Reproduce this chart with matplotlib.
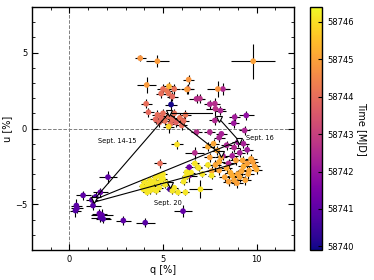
import numpy as np
import matplotlib
matplotlib.use("Agg")
import matplotlib.pyplot as plt

# -----------------------------
# Data
# -----------------------------
# Sept. 14-15 (purple / blue)
q_a = [2.06, 1.65, 0.73, 1.26, 1.20, 1.40, 0.37, 0.32, 0.40, 1.74, 1.65, 1.80, 1.60, 2.88, 4.05, 6.07, 5.43, 6.40, 6.40, 5.37]
u_a = [-3.20, -4.20, -4.40, -5.07, -4.70, -4.50, -5.07, -5.40, -5.25, -5.70, -5.86, -5.95, -5.60, -6.06, -6.20, -5.44, 1.58, -2.55, -3.10, -4.00]
qe_a = [0.5, 0.4, 0.4, 0.4, 0.3, 0.3, 0.3, 0.3, 0.3, 0.6, 0.5, 0.4, 0.4, 0.4, 0.5, 0.5, 0.3, 0.2, 0.4, 0.2]
ue_a = [0.4, 0.3, 0.3, 0.3, 0.3, 0.3, 0.4, 0.4, 0.3, 0.4, 0.3, 0.3, 0.3, 0.3, 0.3, 0.4, 0.4, 0.2, 0.4, 0.2]
t_a = [58741.0, 58741.1, 58741.0, 58740.9, 58741.0, 58740.8, 58740.9, 58740.8, 58741.0, 58741.0,
       58740.9, 58740.8, 58741.1, 58741.0, 58740.9, 58741.1, 58740.0, 58741.3, 58741.4, 58740.6]

# Sept. 16 (magenta)
q_b = [6.79, 6.97, 8.20, 7.50, 7.77, 8.07, 8.83, 9.45, 8.78, 7.77, 6.79, 7.50, 8.12, 9.36, 8.00, 8.80, 8.70, 8.20, 8.50, 9.10, 6.70, 9.00, 9.30, 8.40, 9.50, 7.80]
u_b = [1.95, 1.97, 2.60, 1.60, 1.64, 1.18, 0.75, 0.86, 0.35, 0.53, -0.24, -0.24, -0.35, -0.13, -0.60, -1.25, -1.80, -1.80, -2.30, -1.60, -1.60, -0.90, -1.00, -1.10, -1.40, 1.30]
qe_b = [0.4, 0.3, 0.4, 0.3, 0.3, 0.3, 0.3, 0.4, 0.3, 0.3, 0.3, 0.3, 0.3, 0.3, 0.3, 0.3, 0.3, 0.3, 0.3, 0.3, 0.5, 0.3, 0.3, 0.3, 0.3, 0.5]
ue_b = [0.3, 0.3, 0.4, 0.3, 0.4, 0.3, 0.3, 0.3, 0.3, 0.3, 0.2, 0.2, 0.2, 0.3, 0.3, 0.3, 0.3, 0.3, 0.3, 0.3, 0.4, 0.3, 0.3, 0.3, 0.3, 0.5]
t_b = [58742.6, 58742.7, 58742.5, 58742.5, 58742.6, 58742.4, 58742.2, 58741.9, 58742.1, 58742.5,
       58742.6, 58742.5, 58742.3, 58742.4, 58742.4, 58742.5, 58742.3, 58742.4, 58742.5, 58742.3,
       58742.6, 58742.2, 58742.3, 58742.4, 58742.2, 58742.7]

# salmon (~58744)
q_c = [5.00, 5.30, 5.50, 4.90, 5.20, 5.60, 6.33, 4.10, 4.22, 4.70, 4.90, 5.10, 5.30, 5.50, 5.70, 5.90, 6.10, 6.20, 4.80, 5.00, 5.60, 6.00, 5.40, 4.60, 4.84]
u_c = [2.60, 2.30, 2.10, 2.30, 2.50, 2.60, 2.60, 1.63, 1.07, 0.90, 0.70, 0.50, 0.80, 0.60, 0.40, 0.70, 0.50, 0.90, 0.40, 1.00, 1.00, 0.20, 0.30, 0.60, -2.30]
qe_c = [0.3] * 25
ue_c = [0.3] * 25
t_c = [58744.0, 58744.1, 58743.9, 58744.0, 58744.2, 58744.1, 58744.0, 58744.0, 58743.9, 58744.0,
       58743.9, 58744.1, 58744.0, 58744.0, 58743.8, 58744.1, 58744.0, 58744.2, 58743.9, 58744.0,
       58744.1, 58744.0, 58744.0, 58743.9, 58744.0]

# orange (~58745)
q_d = [3.78, 4.70, 4.13, 5.32, 6.37, 6.28, 7.93, 9.82,
       7.70, 7.90, 7.50, 8.00, 7.80, 8.00, 8.30, 8.60, 9.10, 9.50, 9.60, 9.30, 9.70, 8.80, 8.40, 7.60,
       8.90, 9.20, 8.70, 9.90, 8.10, 7.40, 8.50, 9.00, 9.40, 9.80, 10.0, 9.55, 8.95, 9.25]
u_d = [4.63, 4.43, 2.87, 2.78, 3.22, 2.57, 2.60, 4.43,
       -1.00, -1.45, -1.90, -2.20, -2.40, -2.76, -3.20, -2.90, -3.20, -2.30, -2.76, -2.50, -2.00, -3.40, -2.60, -2.80,
       -2.10, -2.80, -3.10, -2.50, -1.90, -1.20, -3.50, -3.00, -3.40, -2.20, -2.70, -3.00, -3.60, -2.10]
qe_d = [0.3, 0.6, 0.5, 0.3, 0.3, 0.3, 0.6, 1.17] + [0.3] * 30
ue_d = [0.2, 0.4, 0.5, 0.3, 0.3, 0.3, 0.5, 1.16] + [0.3] * 30
t_d = [58744.8, 58744.9, 58744.9, 58745.3, 58744.8, 58744.9, 58744.8, 58745.0,
       58745.1, 58745.1, 58745.0, 58745.2, 58745.1, 58745.0, 58745.1, 58745.2, 58745.1, 58745.0, 58745.1, 58745.2,
       58745.0, 58745.1, 58745.2, 58745.1, 58745.0, 58745.1, 58745.2, 58745.0, 58745.1, 58745.2, 58745.0, 58745.1,
       58745.1, 58745.0, 58745.2, 58745.1, 58745.0, 58745.1]

# Sept. 20 (yellow)
q_e = [5.30, 5.75, 4.00, 4.10, 4.20, 4.30, 4.40, 4.50, 4.60, 4.70, 4.50, 4.80, 4.90, 5.00, 5.10, 5.20,
       3.90, 4.30, 4.80, 5.00, 5.50, 5.80, 6.20, 6.10, 6.30, 6.50, 6.90, 7.10, 7.40, 7.60, 7.00, 5.60,
       6.26, 6.20, 6.70, 6.87, 4.15, 4.65, 3.95, 4.40]
u_e = [0.13, -1.05, -3.50, -3.90, -3.70, -3.40, -3.80, -3.50, -3.20, -3.60, -4.00, -3.90, -3.40, -3.30, -3.70, -3.60,
       -3.80, -4.10, -3.10, -3.00, -4.10, -4.20, -4.20, -3.50, -3.10, -2.90, -2.60, -3.00, -2.40, -3.10, -4.00, -3.90,
       -2.87, -3.20, -2.30, -2.55, -4.20, -4.10, -4.00, -3.60]
qe_e = [0.3, 0.3] + [0.2] * 28 + [0.6] + [0.2] * 9
ue_e = [0.4, 0.3] + [0.2] * 28 + [0.6] + [0.2] * 9
t_e = [58745.9, 58746.0] + [58746.1] * 38

# nightly means (open triangles) and the connecting lines
mean_q = [1.30, 5.30, 8.00, 9.05, 8.10, 5.40]
mean_u = [-4.70, 1.00, 0.65, -0.80, -1.70, -3.75]
seg_q0 = [1.30, 5.30, 5.30, 8.00, 1.30, 1.30]
seg_u0 = [-4.70, 1.00, 1.00, 0.65, -4.70, -4.85]
seg_q1 = [5.30, 7.60, 8.10, 9.05, 9.05, 8.90]
seg_u1 = [1.00, 1.00, -1.70, -0.80, -0.80, -2.30]

labels = ["Sept. 14-15", "Sept. 16", "Sept. 20"]
label_q = [1.55, 9.45, 4.5]
label_u = [-0.8, -0.6, -4.9]

# -----------------------------
# Combine
# -----------------------------
q = np.array(q_a + q_b + q_c + q_d + q_e)
u = np.array(u_a + u_b + u_c + u_d + u_e)
qe = np.array(qe_a + qe_b + qe_c + qe_d + qe_e)
ue = np.array(ue_a + ue_b + ue_c + ue_d + ue_e)
t = np.array(t_a + t_b + t_c + t_d + t_e)

# -----------------------------
# Plot
# -----------------------------
plt.rcParams["font.family"] = "DejaVu Sans"
fig = plt.figure(figsize=(3.74, 2.8), dpi=100)
ax = fig.add_axes([0.0856, 0.107, 0.7005, 0.868])
cax = fig.add_axes([0.829, 0.107, 0.032, 0.868])

ax.axhline(0, color="grey", ls="--", lw=0.7, zorder=0)
ax.axvline(0, color="grey", ls="--", lw=0.7, zorder=0)

ax.errorbar(q, u, xerr=qe, yerr=ue, fmt="none", ecolor="black", elinewidth=0.8, zorder=1)
sc = ax.scatter(q, u, c=t, cmap="plasma", vmin=58739.9, vmax=58746.4, s=17, zorder=2, linewidths=0)

for x0, y0, x1, y1 in zip(seg_q0, seg_u0, seg_q1, seg_u1):
    ax.plot([x0, x1], [y0, y1], color="black", lw=0.8, zorder=3)
ax.plot(mean_q, mean_u, "v", ms=4.5, mfc="white", mec="black", mew=0.8, ls="none", zorder=4)

for txt, x, y in zip(labels, label_q, label_u):
    ax.text(x, y, txt, fontsize=4.8, ha="left", va="center", zorder=5)

ax.set_xlim(-2, 12)
ax.set_ylim(-8, 8)
ax.set_xticks([0, 5, 10])
ax.set_yticks([-5, 0, 5])
ax.set_xticks(np.arange(-2, 13, 1), minor=True)
ax.set_yticks(np.arange(-8, 9, 1), minor=True)
ax.tick_params(which="both", direction="in", top=True, right=True, labelsize=6)
ax.tick_params(which="major", length=4)
ax.tick_params(which="minor", length=2)
ax.set_xlabel("q [%]", fontsize=7, labelpad=1)
ax.set_ylabel("u [%]", fontsize=7, labelpad=2)
for s in ax.spines.values():
    s.set_linewidth(1.0)

cb = fig.colorbar(sc, cax=cax)
cb.set_ticks([58740, 58741, 58742, 58743, 58744, 58745, 58746])
cb.ax.tick_params(direction="in", labelsize=6, length=3)
cb.ax.yaxis.get_major_formatter().set_useOffset(False)
cb.set_label("Time [MJD]", fontsize=7, rotation=270, labelpad=9)
cb.outline.set_linewidth(1.0)

fig.savefig("out.png", dpi=100)
